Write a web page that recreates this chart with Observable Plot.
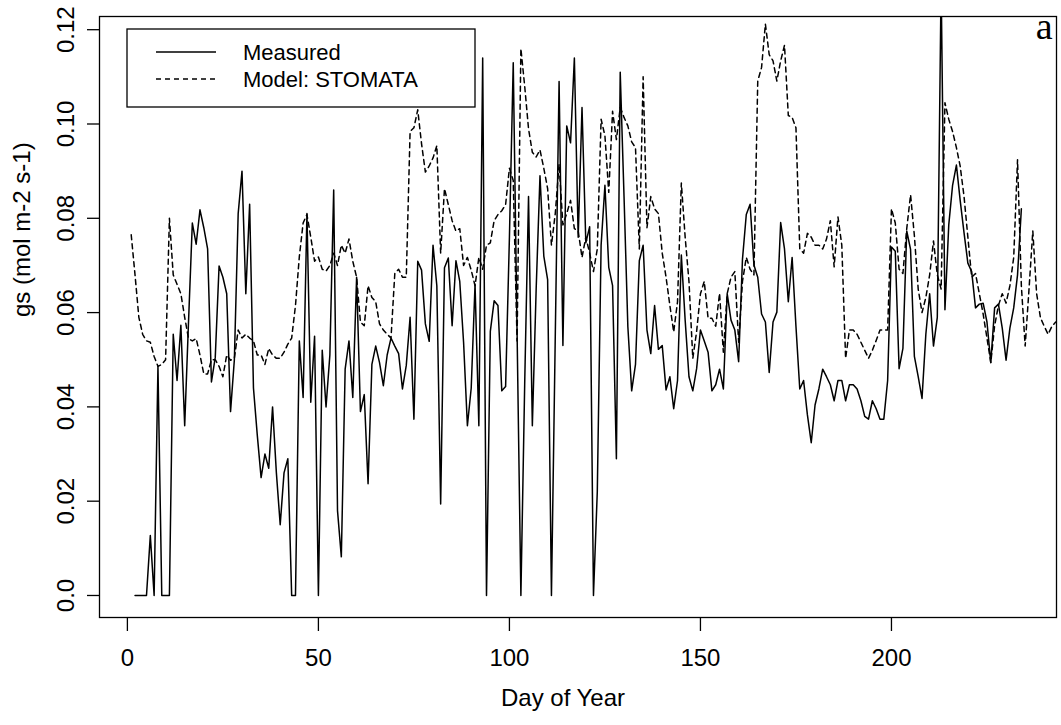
<!DOCTYPE html>
<html>
<head>
<meta charset="utf-8">
<script src="https://cdn.jsdelivr.net/npm/d3@7"></script>
<script src="https://cdn.jsdelivr.net/npm/@observablehq/plot@0.6"></script>
<style>
  html, body { margin: 0; padding: 0; background: #ffffff; }
  #chart { width: 1061px; height: 725px; overflow: hidden; }
</style>
</head>
<body>
<div id="chart"></div>
<script>
// ---- data ----
const measuredFirstDay = 2;
const measured = [
  0, 0, 0, 0, 0.0127, 0, 0.0486, 0, 0, 0,
  0.0554, 0.0456, 0.0573, 0.036, 0.058, 0.079, 0.0745, 0.0818, 0.078, 0.0735,
  0.0453, 0.0505, 0.0699, 0.0675, 0.064, 0.039, 0.050, 0.081, 0.090, 0.064,
  0.083, 0.044, 0.034, 0.025, 0.030, 0.027, 0.040, 0.026, 0.015, 0.026,
  0.029, 0, 0, 0.054, 0.042, 0.081, 0.041, 0.055, 0, 0.052,
  0.040, 0.051, 0.086, 0.018, 0.0082, 0.048, 0.054, 0.042, 0.0675, 0.039,
  0.0426, 0.0237, 0.049, 0.0529, 0.0494, 0.0445, 0.051, 0.0546, 0.0529, 0.0513,
  0.0438, 0.0488, 0.059, 0.0374, 0.0709, 0.069, 0.0576, 0.0539, 0.0743, 0.0657,
  0.0194, 0.0695, 0.0716, 0.0572, 0.071, 0.0666, 0.0537, 0.036, 0.044, 0.066,
  0.036, 0.114, 0, 0.056, 0.0625, 0.0615, 0.0434, 0.0443, 0.076, 0.113,
  0.056, 0, 0.045, 0.0846, 0.036, 0.065, 0.089, 0.072, 0.067, 0,
  0.055, 0.109, 0.053, 0.0996, 0.096, 0.114, 0.076, 0.1035, 0.0748, 0.0782,
  0, 0.022, 0.0743, 0.087, 0.0696, 0.0657, 0.029, 0.111, 0.0846, 0.057,
  0.0434, 0.049, 0.071, 0.0743, 0.0563, 0.0513, 0.0615, 0.0522, 0.053, 0.0436,
  0.0464, 0.0396, 0.0456, 0.0722, 0.0584, 0.0464, 0.0434, 0.0481, 0.0563, 0.054,
  0.0516, 0.0434, 0.0447, 0.048, 0.0438, 0.064, 0.0584, 0.0563, 0.0496, 0.0713,
  0.0808, 0.083, 0.0701, 0.0675, 0.0597, 0.058, 0.0473, 0.058, 0.0601, 0.0791,
  0.0735, 0.0623, 0.0717, 0.0571, 0.0438, 0.0456, 0.0383, 0.0324, 0.0404, 0.0438,
  0.048, 0.0464, 0.0447, 0.0413, 0.0456, 0.0456, 0.0413, 0.0447, 0.0447, 0.0438,
  0.0413, 0.038, 0.0374, 0.0413, 0.0396, 0.0374, 0.0374, 0.0456, 0.0739, 0.073,
  0.0481, 0.0524, 0.0773, 0.0734, 0.0507, 0.0464, 0.0418, 0.0554, 0.064, 0.0529,
  0.059, 0.13, 0.0606, 0.0786, 0.087, 0.0913, 0.0837, 0.0769, 0.0705, 0.0687,
  0.061, 0.0618, 0.062, 0.058, 0.0494, 0.061, 0.0618, 0.0567, 0.0499, 0.0567,
  0.061, 0.068, 0.082
];
const modelFirstDay = 1;
const model = [
  0.0765, 0.068, 0.059, 0.0554, 0.054, 0.0537, 0.0507, 0.0486, 0.049, 0.05,
  0.080, 0.068, 0.066, 0.064, 0.059, 0.0545, 0.054, 0.0545, 0.051, 0.047,
  0.047, 0.050, 0.050, 0.0486, 0.0464, 0.051, 0.0499, 0.0503, 0.0563, 0.0546,
  0.0554, 0.0546, 0.054, 0.051, 0.051, 0.049, 0.0524, 0.051, 0.0503, 0.0503,
  0.0516, 0.0533, 0.0546, 0.0615, 0.0718, 0.079, 0.0808, 0.076, 0.0709, 0.0718,
  0.0692, 0.0688, 0.070, 0.0726, 0.070, 0.0743, 0.0726, 0.0756, 0.0709, 0.0675,
  0.058, 0.0572, 0.0657, 0.0632, 0.0623, 0.0576, 0.0563, 0.0554, 0.0546, 0.0683,
  0.0692, 0.0675, 0.0675, 0.0984, 0.0992, 0.103, 0.0958, 0.0898, 0.0911, 0.0928,
  0.0954, 0.0726, 0.0863, 0.0829, 0.0795, 0.0773, 0.0778, 0.070, 0.0717, 0.069,
  0.0657, 0.0717, 0.0692, 0.0743, 0.0748, 0.0795, 0.0808, 0.0816, 0.0829, 0.0906,
  0.088, 0.054, 0.116, 0.108, 0.099, 0.094, 0.093, 0.0945, 0.0906, 0.0863,
  0.0743, 0.081, 0.0915, 0.0786, 0.081, 0.0838, 0.0778, 0.0773, 0.0717, 0.076,
  0.0726, 0.0687, 0.0735, 0.101, 0.0975, 0.0855, 0.1027, 0.0967, 0.1035, 0.1014,
  0.0996, 0.0962, 0.095, 0.0735, 0.110, 0.078, 0.0846, 0.082, 0.081, 0.0726,
  0.0675, 0.0615, 0.0559, 0.0623, 0.0875, 0.076, 0.0666, 0.0503, 0.056, 0.064,
  0.0666, 0.0588, 0.0588, 0.0571, 0.0641, 0.0516, 0.064, 0.0675, 0.0687, 0.0537,
  0.0666, 0.0717, 0.0692, 0.068, 0.1091, 0.112, 0.1212, 0.1147, 0.1134, 0.1091,
  0.1134, 0.1167, 0.1018, 0.1014, 0.0992, 0.0735, 0.0726, 0.0768, 0.076, 0.0743,
  0.0743, 0.0735, 0.0756, 0.0795, 0.0697, 0.0803, 0.0743, 0.0503, 0.0563, 0.0563,
  0.0554, 0.0537, 0.052, 0.0503, 0.052, 0.0541, 0.0563, 0.0563, 0.0563, 0.082,
  0.079, 0.0692, 0.0683, 0.0778, 0.085, 0.0763, 0.065, 0.060, 0.0632, 0.068,
  0.0752, 0.068, 0.065, 0.1045, 0.101, 0.0984, 0.095, 0.091, 0.0846, 0.076,
  0.0675, 0.0683, 0.064, 0.0597, 0.0546, 0.0494, 0.0572, 0.0615, 0.064, 0.062,
  0.0657, 0.0717, 0.0924, 0.0657, 0.0529, 0.0649, 0.0773, 0.064, 0.0589, 0.0571,
  0.0554, 0.0571, 0.058
];
const xTicks = [0, 50, 100, 150, 200];
const yTicks = [0, 0.02, 0.04, 0.06, 0.08, 0.10, 0.12];
const yTickLabels = ["0.0", "0.02", "0.04", "0.06", "0.08", "0.10", "0.12"];
const seriesNames = ["Measured", "Model: STOMATA"];
const xTitle = "Day of Year";
const yTitle = "gs (mol m-2 s-1)";
const panelTag = "a";

// ---- tables built from the arrays ----
const measuredRows = measured.map((v, i) => ({day: measuredFirstDay + i, gs: v}));
const modelRows = model.map((v, i) => ({day: modelFirstDay + i, gs: v}));

const FONT = "'Liberation Sans', Arial, Helvetica, sans-serif";

const chart = Plot.plot({
  width: 1061,
  height: 725,
  marginLeft: 99,
  marginRight: 5,
  marginTop: 16,
  marginBottom: 108,
  style: {fontFamily: FONT, fontSize: "24px", background: "#ffffff", color: "#000000", overflow: "visible"},
  x: {domain: [-7.3, 243.2]},
  y: {domain: [-0.00467, 0.1228]},
  marks: [
    Plot.lineY(modelRows, {x: "day", y: "gs", stroke: "#000", strokeWidth: 1.5, strokeDasharray: "5,4", clip: true}),
    Plot.lineY(measuredRows, {x: "day", y: "gs", stroke: "#000", strokeWidth: 1.5, clip: true}),
    Plot.frame({stroke: "#000", strokeWidth: 1.3}),
    Plot.axisY({ticks: yTicks, tickSize: 12, tickFormat: () => "", label: null, strokeWidth: 1.3}),
    Plot.text(yTicks, {y: d => d, text: (d, i) => yTickLabels[i], frameAnchor: "left", dx: -33,
      rotate: -90, textAnchor: "middle", lineAnchor: "middle", fontSize: 24}),
    Plot.axisX({ticks: xTicks, tickSize: 14, tickFormat: () => "", label: null, strokeWidth: 1.3}),
    Plot.text(xTicks, {x: d => d, text: d => String(d), frameAnchor: "bottom", dy: 41,
      lineAnchor: "middle", fontSize: 24}),
    Plot.text([xTitle], {text: d => d, frameAnchor: "bottom", dy: 81, dx: -15, lineAnchor: "middle", fontSize: 24}),
    Plot.text([yTitle], {text: d => d, frameAnchor: "left", dx: -77, rotate: -90, lineAnchor: "middle", fontSize: 24}),
    Plot.text([panelTag], {text: d => d, frameAnchor: "top-right", dx: -4, dy: -4, textAnchor: "end",
      lineAnchor: "top", fontFamily: "'Liberation Serif', 'Times New Roman', serif", fontSize: 38})
  ]
});

// ---- legend box (inside the plot, top-left) ----
const svg = d3.select(chart);
const lg = svg.append("g").attr("font-family", FONT).attr("font-size", 22).attr("text-anchor", "start");
lg.append("rect").attr("x", 127).attr("y", 29).attr("width", 348).attr("height", 78)
  .attr("fill", "#fff").attr("stroke", "#000").attr("stroke-width", 1.3);
seriesNames.forEach((name, i) => {
  const yy = 52 + i * 27;
  lg.append("line").attr("x1", 156).attr("x2", 216).attr("y1", yy).attr("y2", yy)
    .attr("stroke", "#000").attr("stroke-width", 1.5)
    .attr("stroke-dasharray", i === 1 ? "5,4" : null);
  lg.append("text").attr("x", 243).attr("y", yy).attr("dy", "0.36em")
    .attr("text-anchor", "start").text(name);
});

document.getElementById("chart").appendChild(chart);
</script>
</body>
</html>
